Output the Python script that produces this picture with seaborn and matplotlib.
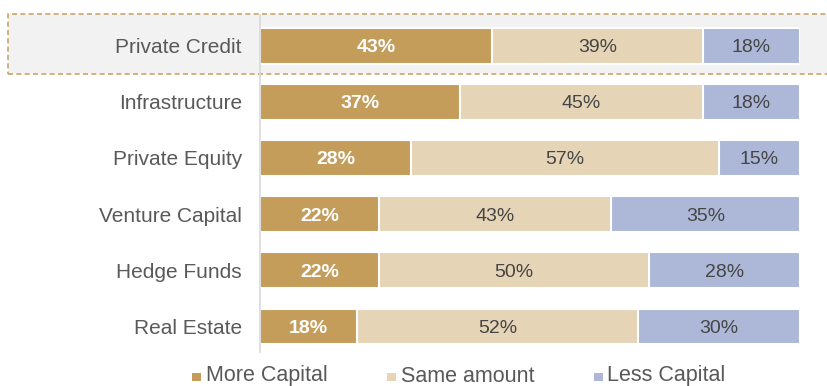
import matplotlib
matplotlib.use("Agg")
import matplotlib.pyplot as plt
import matplotlib.patches as mpatches
import seaborn as sns
import pandas as pd
import numpy as np

categories = ["Private Credit", "Infrastructure", "Private Equity",
              "Venture Capital", "Hedge Funds", "Real Estate"]
more_capital = [43, 37, 28, 22, 22, 18]
same_amount = [39, 45, 57, 43, 50, 52]
less_capital = [18, 18, 15, 35, 28, 30]
series_names = ["More Capital", "Same amount", "Less Capital"]

colors = {"More Capital": "#C49D5B", "Same amount": "#E5D4B5", "Less Capital": "#ADB8D8"}
text_color = "#595959"
value_color = "#454545"

sns.set_theme(style="white")
plt.rcParams["font.family"] = ["Liberation Sans", "DejaVu Sans"]

W, H = 827, 386
fig = plt.figure(figsize=(W / 100, H / 100), dpi=100)

# highlight box behind first row (figure pixel coords)
hl = mpatches.Rectangle((8 / W, 1 - 74 / H), (W + 10) / W, 60 / H,
                        transform=fig.transFigure, facecolor="#F2F2F2",
                        edgecolor="#C9A66B", linestyle=(0, (3, 2)), linewidth=1.2,
                        zorder=-5)
fig.add_artist(hl)

ax = fig.add_axes([260 / W, 1 - 352 / H, 540 / W, 337 / H])
ax.set_facecolor("none")
ax.set_zorder(2)

df = pd.DataFrame({"cat": categories,
                   "more": more_capital,
                   "same": same_amount,
                   "less": less_capital})
df["c2"] = df["more"] + df["same"]
df["c3"] = df["c2"] + df["less"]

for col, name in [("c3", "Less Capital"), ("c2", "Same amount"), ("more", "More Capital")]:
    sns.barplot(data=df, y="cat", x=col, order=categories, orient="h",
                color=colors[name], width=0.63, edgecolor="white", linewidth=1.5,
                saturation=1, ax=ax)

ax.set_xlim(0, 100)
ax.set_ylim(5.46, -0.55)
ax.set_xlabel("")
ax.set_ylabel("")
ax.set_xticks([])
for s in ["top", "right", "bottom"]:
    ax.spines[s].set_visible(False)
ax.spines["left"].set_color("#D9D9D9")
ax.spines["left"].set_linewidth(1.2)
ax.tick_params(axis="y", length=0, pad=13, labelsize=15, labelcolor=text_color)

for i in range(len(categories)):
    m, s, l = more_capital[i], same_amount[i], less_capital[i]
    ax.text(m / 2, i, f"{m}%", ha="center", va="center_baseline", color="white",
            fontsize=14, fontweight="bold")
    ax.text(m + s / 2, i, f"{s}%", ha="center", va="center_baseline", color=value_color,
            fontsize=14)
    ax.text(m + s + l / 2, i, f"{l}%", ha="center", va="center_baseline", color=value_color,
            fontsize=14)

# legend: square markers + labels on a common baseline
marker_x = [192, 387, 594]
text_x = [206, 401, 607]
for name, mx, tx in zip(series_names, marker_x, text_x):
    fig.add_artist(mpatches.Rectangle((mx / W, 1 - 381 / H), 8.5 / W, 8.5 / H,
                                      transform=fig.transFigure,
                                      facecolor=colors[name], edgecolor="none"))
    fig.text(tx / W, 1 - 381.5 / H, name, ha="left", va="baseline",
             fontsize=15.5, color=text_color)

fig.savefig("out.png", dpi=100)
